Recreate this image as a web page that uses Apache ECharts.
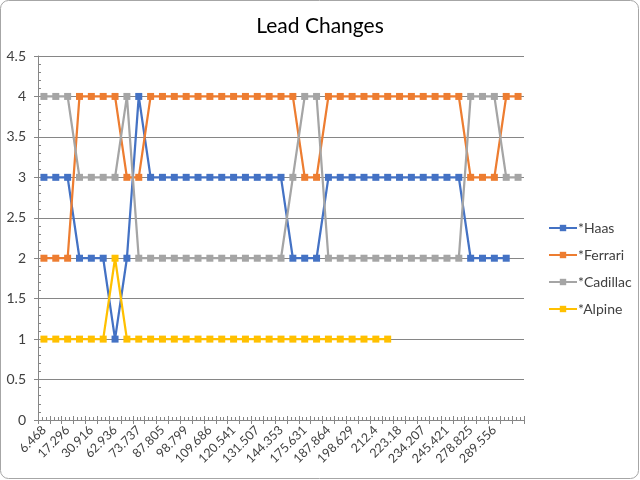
<!DOCTYPE html>
<html>
<head>
<meta charset="utf-8">
<script src="https://cdn.jsdelivr.net/npm/echarts@6/dist/echarts.min.js"></script>
<style>
html,body{margin:0;padding:0;background:#fff;}
#c{width:640px;height:480px;}
</style>
</head>
<body>
<div id="c"></div>
<script>
// Category labels (odd positions are not printed in the reference)
var categories = [
  "6.468","", "17.296","", "30.916","", "62.936","", "73.737","",
  "87.805","", "98.799","", "109.686","", "120.541","", "131.507","",
  "144.353","", "175.631","", "187.864","", "198.629","", "212.4","",
  "223.18","", "234.207","", "245.421","", "278.825","", "289.556","", ""
];
var haas = [3,3,3,2,2,2,1,2,4,3, 3,3,3,3,3,3,3,3,3,3, 3,2,2,2,3,3,3,3,3,3, 3,3,3,3,3,3,2,2,2,2, null];
var ferrari = [2,2,2,4,4,4,4,3,3,4, 4,4,4,4,4,4,4,4,4,4, 4,4,3,3,4,4,4,4,4,4, 4,4,4,4,4,4,3,3,3,4, 4];
var cadillac = [4,4,4,3,3,3,3,4,2,2, 2,2,2,2,2,2,2,2,2,2, 2,3,4,4,2,2,2,2,2,2, 2,2,2,2,2,2,4,4,4,3, 3];
var alpine = [1,1,1,1,1,1,2,1,1,1, 1,1,1,1,1,1,1,1,1,1, 1,1,1,1,1,1,1,1,1,1, null,null,null,null,null,null,null,null,null,null, null];
var seriesNames = ["*Haas","*Ferrari","*Cadillac","*Alpine"];
var seriesColors = ["#4472C4","#ED7D31","#A5A5A5","#FFC000"];
var yMin = 0, yMax = 4.5, yStep = 0.5;

var font = "Lato, 'Noto Sans', sans-serif";
var axisColor = "#868686";
var values = [haas, ferrari, cadillac, alpine];

var chart = echarts.init(document.getElementById('c'), null, {renderer:'canvas'});
var series = values.map(function(v, i){
  return {
    name: seriesNames[i],
    type: 'line',
    data: v,
    xAxisIndex: 0,
    yAxisIndex: 0,
    symbol: 'rect',
    symbolSize: 7,
    showAllSymbol: true,
    connectNulls: false,
    lineStyle: {width: 2.25, color: seriesColors[i]},
    itemStyle: {color: seriesColors[i]},
    emphasis: {disabled: true},
    animation: false,
    z: 3
  };
});

chart.setOption({
  animation: false,
  backgroundColor: '#fff',
  textStyle: {fontFamily: font},
  title: {
    text: 'Lead Changes',
    left: 'center',
    top: 11,
    textStyle: {fontFamily: font, fontSize: 21, fontWeight: 'normal', color: '#000'}
  },
  graphic: [{
    type: 'rect',
    shape: {x: 0.5, y: 0.5, width: 638, height: 478, r: 8},
    style: {fill: 'none', stroke: '#A6A6A6', lineWidth: 1},
    silent: true,
    z: 100
  }],
  legend: {
    orient: 'vertical',
    left: 543,
    top: 216,
    itemWidth: 28,
    itemHeight: 8,
    itemGap: 13,
    data: seriesNames,
    textStyle: {fontFamily: font, fontSize: 14, color: '#404040', padding: [0,0,0,-4]}
  },
  grid: {left: 38, right: 116, top: 56, bottom: 60, containLabel: false},
  xAxis: [{
    type: 'category',
    data: categories,
    boundaryGap: true,
    axisLine: {show: true, lineStyle: {color: axisColor, width: 1}},
    axisTick: {show: true, interval: 0, length: 4, lineStyle: {color: axisColor}},
    axisLabel: {interval: 0, rotate: 45, fontSize: 12.5, color: '#404040', fontFamily: font, margin: 8},
    splitLine: {show: false}
  }, {
    type: 'value',
    min: 0, max: 41, interval: 1,
    position: 'bottom',
    axisLine: {show: false},
    axisTick: {show: true, inside: true, length: 4, lineStyle: {color: axisColor}},
    minorTick: {show: true, splitNumber: 3, length: 3, lineStyle: {color: axisColor}},
    axisLabel: {show: false},
    splitLine: {show: false}
  }],
  yAxis: [{
    type: 'value',
    min: yMin, max: yMax, interval: yStep,
    axisLine: {show: true, lineStyle: {color: axisColor, width: 1}},
    axisTick: {show: true, length: 4, lineStyle: {color: axisColor}},
    minorTick: {show: false},
    axisLabel: {fontSize: 14, color: '#404040', fontFamily: font, margin: 12},
    splitLine: {show: true, lineStyle: {color: axisColor, width: 1}}
  }, {
    type: 'value',
    min: yMin, max: yMax, interval: yStep,
    position: 'left',
    axisLine: {show: false},
    axisTick: {show: true, inside: true, length: 4, lineStyle: {color: axisColor}},
    minorTick: {show: true, splitNumber: 5, length: 3, lineStyle: {color: axisColor}},
    axisLabel: {show: false},
    splitLine: {show: false}
  }],
  series: series
});
</script>
</body>
</html>
